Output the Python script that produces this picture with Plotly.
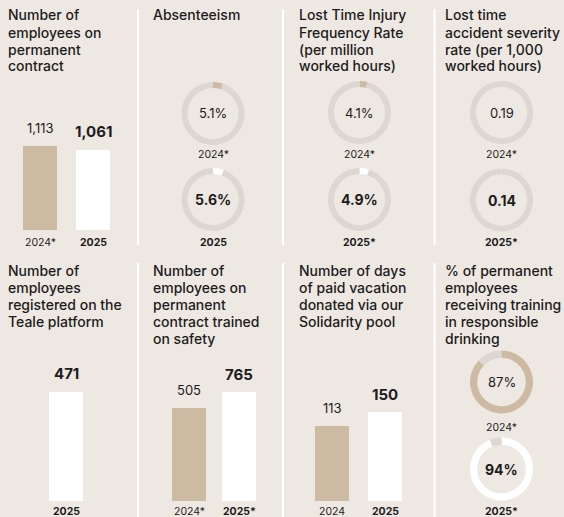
import math
import plotly.graph_objects as go

# ---------------- data ----------------
headcount_years = ["2024*", "2025"]
headcount = [1113, 1061]

absenteeism_years = ["2024*", "2025"]
absenteeism = [5.1, 5.6]

ltifr_years = ["2024*", "2025*"]
ltifr = [4.1, 4.9]

severity_years = ["2024*", "2025*"]
severity = [0.19, 0.14]

teale_years = ["2025"]
teale = [471]

safety_years = ["2024*", "2025*"]
safety = [505, 765]

solidarity_years = ["2024", "2025"]
solidarity = [113, 150]

drinking_years = ["2024*", "2025*"]
drinking = [87, 94]

titles = [
    ["Number of", "employees on", "permanent", "contract"],
    ["Absenteeism"],
    ["Lost Time Injury", "Frequency Rate", "(per million", "worked hours)"],
    ["Lost time", "accident severity", "rate (per 1,000", "worked hours)"],
    ["Number of", "employees", "registered on the", "Teale platform"],
    ["Number of", "employees on", "permanent", "contract trained", "on safety"],
    ["Number of days", "of paid vacation", "donated via our", "Solidarity pool"],
    ["% of permanent", "employees", "receiving training", "in responsible", "drinking"],
]

# ---------------- style ----------------
W, H = 564, 517
BG = "#EEE8E2"
TAN = "#CCBAA3"
WHITE = "#FFFFFF"
RING = "#DCD7D3"
INK = "#1C1C1C"
FONT = "Inter"


def px(x):
    return x / W


def py(y):
    return 1 - y / H


fig = go.Figure()
annotations = []
shapes = []


def is_current(label):
    return label.startswith("2025")


def year_text(label):
    return f"<b>{label}</b>" if is_current(label) else label


# ---------------- bar panels ----------------
bar_panels = [
    (headcount_years, headcount, (13.5, 119.5), 230, 130, "linear", [0, 1325], 0.358, 242),
    (teale_years, teale, (39.5, 92.5), 501, 381, "linear", [0, 518.5], 0.358, 511),
    (safety_years, safety, (164, 264), 501, 381, "log", [1.655, 3.008], 0.32, 511),
    (solidarity_years, solidarity, (305.5, 411.5), 501, 381, "log", [1.394, 2.4485], 0.358, 511),
]

for i, (yrs, vals, xd, yb, yt, atype, rng, gap, ylab) in enumerate(bar_panels):
    n = i + 1
    xa = "x" if n == 1 else f"x{n}"
    ya = "y" if n == 1 else f"y{n}"
    fig.add_trace(go.Bar(
        x=yrs, y=vals,
        marker=dict(color=[WHITE if is_current(y) else TAN for y in yrs], line=dict(width=0)),
        width=1 - gap,
        xaxis=xa, yaxis=ya, hoverinfo="skip", showlegend=False,
    ))
    fig.update_layout(**{
        ("xaxis" if n == 1 else f"xaxis{n}"): dict(
            domain=[px(xd[0]), px(xd[1])], visible=False, anchor=ya, type="category",
            categoryorder="array", categoryarray=yrs,
            range=[-0.5, len(yrs) - 0.5], fixedrange=True),
        ("yaxis" if n == 1 else f"yaxis{n}"): dict(
            domain=[py(yb), py(yt)], visible=False, anchor=xa, type=atype,
            range=rng, fixedrange=True),
    })
    for j, (y, v) in enumerate(zip(yrs, vals)):
        yv = math.log10(v) if atype == "log" else v
        cur = is_current(y)
        annotations.append(dict(
            x=j, y=yv, xref=xa, yref=ya, xanchor="center", yanchor="middle", yshift=18,
            text=(f"<b>{v:,}</b>" if cur else f"{v:,}"), showarrow=False,
            font=dict(size=15 if cur else 13, color=INK, family=FONT),
        ))
        annotations.append(dict(
            x=j, y=py(ylab), xref=xa, yref="paper", xanchor="center", yanchor="middle",
            text=year_text(y), showarrow=False,
            font=dict(size=10.5, color=INK, family=FONT),
        ))

# ---------------- donut panels ----------------
donut_panels = [
    (absenteeism_years, absenteeism, "{:.1f}%", 213, (113.5, 199.5), (155, 242), 31.5, 0.81),
    (ltifr_years, ltifr, "{:.1f}%", 359.5, (112.5, 199.5), (155, 242), 31.5, 0.81),
    (severity_years, severity, "{:.2f}", 501.5, (112.5, 200), (155, 242), 31.5, 0.81),
    (drinking_years, drinking, "{:.0f}%", 501.5, (382, 469), (427, 511), 31.5, 0.77),
]

for yrs, vals, fmt, cx, cys, ylabs, r, hole in donut_panels:
    for y, v, cy, yl in zip(yrs, vals, cys, ylabs):
        cur = is_current(y)
        fig.add_trace(go.Pie(
            values=[v, 100 - v],
            marker=dict(colors=[WHITE if cur else TAN, RING], line=dict(width=0)),
            hole=hole, sort=False, direction="clockwise", rotation=0,
            textinfo="none", hoverinfo="skip", showlegend=False,
            domain=dict(x=[px(cx - r), px(cx + r)], y=[py(cy + r), py(cy - r)]),
        ))
        txt = fmt.format(v)
        annotations.append(dict(
            x=px(cx), y=py(cy), xref="paper", yref="paper",
            xanchor="center", yanchor="middle",
            text=(f"<b>{txt}</b>" if cur else txt), showarrow=False,
            font=dict(size=14 if cur else 13, color=INK, family=FONT),
        ))
        annotations.append(dict(
            x=px(cx), y=py(yl), xref="paper", yref="paper",
            xanchor="center", yanchor="middle",
            text=year_text(y), showarrow=False,
            font=dict(size=10.5, color=INK, family=FONT),
        ))

# ---------------- titles (one annotation per line, 17px leading) ----------------
col_x = [6, 151, 297, 443]
row_first_line = [15, 270]
LEAD = 17
for k, lines in enumerate(titles):
    for li, line in enumerate(lines):
        annotations.append(dict(
            x=px(col_x[k % 4]), y=py(row_first_line[k // 4] + li * LEAD),
            xref="paper", yref="paper", xanchor="left", yanchor="middle",
            align="left", text=line, showarrow=False,
            font=dict(size=14, color=INK, family=FONT, weight=500),
        ))

# ---------------- separators ----------------
for sx in [138, 283, 434.5]:
    for (y0, y1) in [(9, 245), (263, 517)]:
        shapes.append(dict(type="line", xref="paper", yref="paper",
                           x0=px(sx), x1=px(sx), y0=py(y0), y1=py(y1),
                           line=dict(color=WHITE, width=2)))

fig.update_layout(
    width=W, height=H, margin=dict(l=0, r=0, t=0, b=0),
    paper_bgcolor=BG, plot_bgcolor="rgba(0,0,0,0)",
    annotations=annotations, shapes=shapes,
    font=dict(family=FONT, color=INK),
)

fig.write_html(
    "out.html",
    config={"displayModeBar": False},
    post_script="document.body.style.margin='0';document.body.style.padding='0';"
                "document.documentElement.style.overflow='hidden';",
)
